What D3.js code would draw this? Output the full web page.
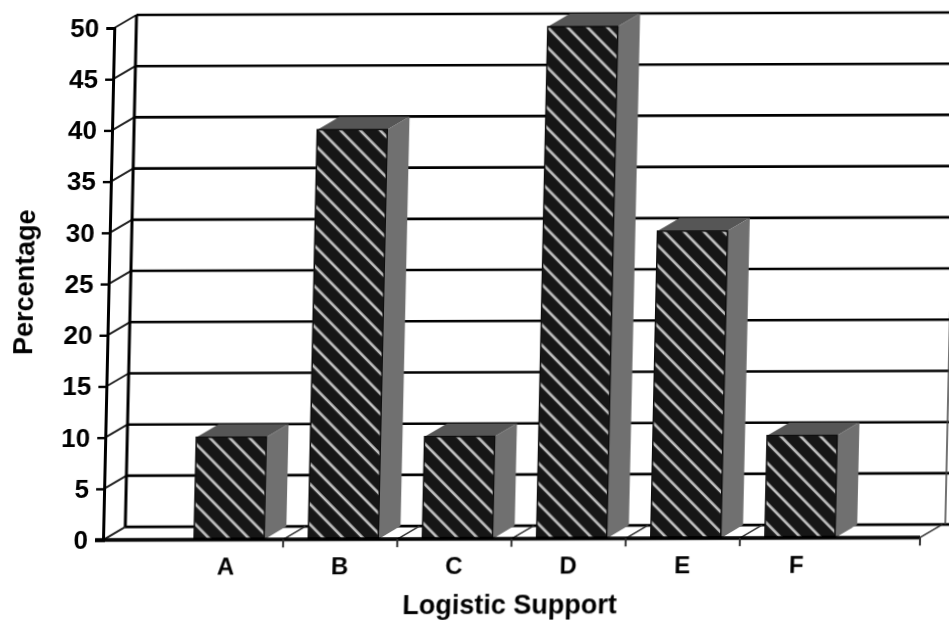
<!DOCTYPE html>
<html>
<head>
<meta charset="utf-8">
<script src="https://cdn.jsdelivr.net/npm/d3@7"></script>
<style>
  body { margin: 0; background: #fff; }
  text { font-family: "Liberation Sans", Arial, sans-serif; font-weight: 700; fill: #000; }
</style>
</head>
<body>
<script>
"use strict";
const categories = ["A", "B", "C", "D", "E", "F"]
const percentages = [10, 40, 10, 50, 30, 10]
const yTicks = [0, 5, 10, 15, 20, 25, 30, 35, 40, 45, 50]

const measurements = { width: 949, height: 620, left: 103, right: 920, bottom: 540, top: 28 }
// how far the back wall sits behind the front plane
const depth = { x: 22, y: -13 }
const barWidth = 70

const svg = d3.select("body").append("svg")
    .attr("width", measurements.width)
    .attr("height", measurements.height)

const defs = svg.append("defs")
const blur = defs.append("filter").attr("id", "scan")
blur.append("feGaussianBlur").attr("stdDeviation", 0.7)

// white diagonal stripes on the bar fronts
const hatch = defs.append("pattern")
    .attr("id", "hatch")
    .attr("patternUnits", "userSpaceOnUse")
    .attr("width", 14)
    .attr("height", 14)
    .attr("patternTransform", "rotate(45)")
hatch.append("rect").attr("width", 14).attr("height", 14).attr("fill", "#161616")
hatch.append("rect").attr("y", 5).attr("width", 14).attr("height", 2.6).attr("fill", "#c4c4c4")

const scaleX = d3.scaleBand().domain(categories).range([169, 854])
const scaleY = d3.scaleLinear().domain([0, 50]).range([measurements.bottom, measurements.top])

// the scanned page is slightly crooked
const root = svg.append("g")
    .attr("filter", "url(#scan)")
    .attr("transform", "matrix(1,-0.003,-0.022,1,11.88,0.3)")

drawWalls()
drawBars()
drawAxes()

root.append("text")
    .attr("x", 511)
    .attr("y", 615)
    .attr("text-anchor", "middle")
    .attr("font-size", 27)
    .text("Logistic Support")

root.append("text")
    .attr("transform", "translate(28,282) rotate(-90)")
    .attr("text-anchor", "middle")
    .attr("font-size", 27)
    .text("Percentage")

function drawWalls() {
    const backLeft = measurements.left + depth.x
    const backRight = 949

    // gridlines on the back wall
    root.selectAll(".grid").data(yTicks).enter().append("line")
        .attr("x1", backLeft)
        .attr("x2", backRight)
        .attr("y1", d => scaleY(d) + depth.y)
        .attr("y2", d => scaleY(d) + depth.y)
        .attr("stroke", "#000")
        .attr("stroke-width", 2.6)

    // slanted lines from the front axis to the wall
    root.selectAll(".side").data(yTicks).enter().append("line")
        .attr("x1", measurements.left)
        .attr("x2", backLeft)
        .attr("y1", d => scaleY(d))
        .attr("y2", d => scaleY(d) + depth.y)
        .attr("stroke", "#222")
        .attr("stroke-width", 2)

    root.append("line")
        .attr("x1", backLeft).attr("x2", backLeft)
        .attr("y1", scaleY(0) + depth.y).attr("y2", scaleY(50) + depth.y)
        .attr("stroke", "#000").attr("stroke-width", 3)

    root.append("line")
        .attr("x1", 945).attr("x2", 945)
        .attr("y1", scaleY(0) + depth.y).attr("y2", scaleY(25))
        .attr("stroke", "#444").attr("stroke-width", 1.5)

    // floor lines between the categories
    const floorTicks = categories.slice(1).map(d => scaleX(d)).concat([measurements.right])
    root.selectAll(".floor").data(floorTicks).enter().append("line")
        .attr("x1", d => d)
        .attr("x2", d => d + depth.x)
        .attr("y1", measurements.bottom)
        .attr("y2", measurements.bottom + depth.y)
        .attr("stroke", "#333")
        .attr("stroke-width", 1.6)
}

function drawBars() {
    const offset = (scaleX.bandwidth() - barWidth) / 2 + 3
    const bars = root.selectAll(".bar")
        .data(categories.map((c, i) => ({ c: c, v: percentages[i] })))
        .enter().append("g")
        .attr("transform", d => `translate(${scaleX(d.c) + offset},0)`)

    // top face
    bars.append("path")
        .attr("d", d => {
            const y = scaleY(d.v)
            return `M0,${y}l${barWidth},0l${depth.x},${depth.y}l${-barWidth},0z`
        })
        .attr("fill", "#575757")

    // side face
    bars.append("path")
        .attr("d", d => {
            const y = scaleY(d.v)
            return `M${barWidth},${y}l${depth.x},${depth.y}L${barWidth + depth.x},${scaleY(0) + depth.y}L${barWidth},${scaleY(0)}z`
        })
        .attr("fill", "#6f6f6f")

    // front face
    bars.append("rect")
        .attr("width", barWidth)
        .attr("y", d => scaleY(d.v))
        .attr("height", d => scaleY(0) - scaleY(d.v))
        .attr("fill", "url(#hatch)")
        .attr("stroke", "#111")
        .attr("stroke-width", 1.5)
}

function drawAxes() {
    const yAxis = d3.axisLeft(scaleY)
        .tickValues(yTicks)
        .tickSize(8)
        .tickPadding(7)
    const yGroup = root.append("g")
        .attr("transform", `translate(${measurements.left},0)`)
        .call(yAxis)
    yGroup.selectAll("text").attr("font-size", 26).style("font-family", null)
    yGroup.selectAll("line").attr("stroke", "#000").attr("stroke-width", 2.4)
    yGroup.select(".domain").attr("stroke", "#000").attr("stroke-width", 3)

    const xAxis = d3.axisBottom(scaleX).tickSize(0).tickPadding(18)
    const xGroup = root.append("g")
        .attr("transform", `translate(0,${measurements.bottom})`)
        .call(xAxis)
    xGroup.selectAll("text").attr("font-size", 24)
    xGroup.select(".domain").remove()

    root.append("line")
        .attr("x1", measurements.left - 8).attr("x2", measurements.right)
        .attr("y1", measurements.bottom).attr("y2", measurements.bottom)
        .attr("stroke", "#000").attr("stroke-width", 3.5)

    // small ticks under the floor edge
    const xTicks = categories.slice(1).map(d => scaleX(d)).concat([measurements.right])
    root.selectAll(".xtick").data(xTicks).enter().append("line")
        .attr("x1", d => d).attr("x2", d => d)
        .attr("y1", measurements.bottom).attr("y2", measurements.bottom + 8)
        .attr("stroke", "#333").attr("stroke-width", 2)
}
</script>
</body>
</html>
